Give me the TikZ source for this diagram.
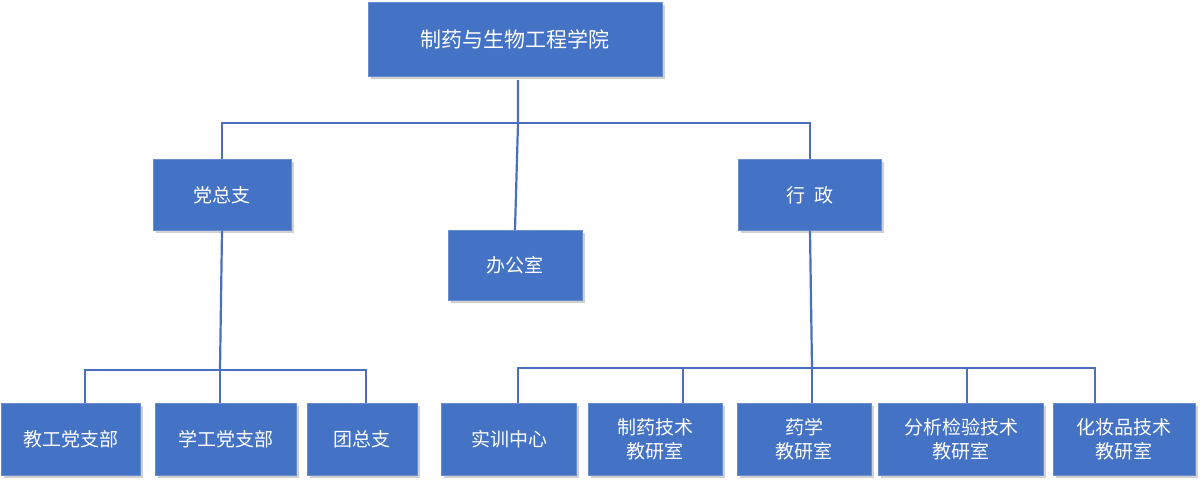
\documentclass[tikz,border=0pt]{standalone}
\usepackage{fontspec}
\newfontfamily\cjk{Noto Sans CJK SC}
\usetikzlibrary{positioning,shadows}
\definecolor{boxblue}{HTML}{4472C4}
\definecolor{lineblue}{HTML}{4A6FC0}
\tikzset{
  unit/.style={fill=boxblue, draw=boxblue!80!white, text=white, font=\cjk\fontsize{19}{24}\selectfont,
    align=center, inner sep=0pt, drop shadow={shadow xshift=2.5pt, shadow yshift=-2.5pt, fill=black!30, opacity=.6}},
  link/.style={draw=lineblue, line width=2.2pt}
}
\begin{document}
\begin{tikzpicture}[x=1pt,y=-1pt]
  \useasboundingbox (0,0) rectangle (1200,482);
  %top level
  \node[unit, minimum width=294pt, minimum height=74pt, font=\cjk\fontsize{21}{26}\selectfont] (college) at (515,39) {制药与生物工程学院};
  %second level
  \node[unit, minimum width=138pt, minimum height=71pt] (party) at (222,195) {党总支};
  \node[unit, minimum width=134pt, minimum height=70pt] (office) at (515,265) {办公室};
  \node[unit, minimum width=143pt, minimum height=71pt] (admin) at (810,195) {行\ \ 政};
  %bottom level
  \node[unit, minimum width=139pt, minimum height=72pt] (staff) at (71,439) {教工党支部};
  \node[unit, minimum width=141pt, minimum height=72pt] (student) at (226,439) {学工党支部};
  \node[unit, minimum width=110pt, minimum height=72pt] (youth) at (362,439) {团总支};
  \node[unit, minimum width=135pt, minimum height=72pt] (train) at (509,439) {实训中心};
  \node[unit, minimum width=134pt, minimum height=72pt] (pharmtech) at (655,439) {制药技术\\教研室};
  \node[unit, minimum width=134pt, minimum height=72pt] (pharmacy) at (804,439) {药学\\教研室};
  \node[unit, minimum width=165pt, minimum height=72pt] (analysis) at (961,439) {分析检验技术\\教研室};
  \node[unit, minimum width=142pt, minimum height=72pt] (cosmetic) at (1124,439) {化妆品技术\\教研室};
  %bus points
  \coordinate (topbus) at (518,123);
  \coordinate (leftbus) at (220,370);
  \coordinate (rightbus) at (812,368);
  %connectors
  \draw[link] (518,80) -- (topbus) -- (office.north);
  \draw[link] (party.north) -- (party.north |- topbus) -- (admin.north |- topbus) -- (admin.north);
  \draw[link] (party.south) -- (leftbus);
  \draw[link] (85,403) -- (85,370) -- (366,370) -- (366,403);
  \draw[link] (leftbus) -- (220,403);
  \draw[link] (admin.south) -- (rightbus);
  \draw[link] (518,403) -- (518,368) -- (1095,368) -- (1095,403);
  \foreach \x in {683,812,967} \draw[link] (\x,368) -- (\x,403);
  \foreach \n in {college,party,office,admin,staff,student,youth,train,pharmtech,pharmacy,analysis,cosmetic}
    \path (\n);
\end{tikzpicture}
\end{document}
